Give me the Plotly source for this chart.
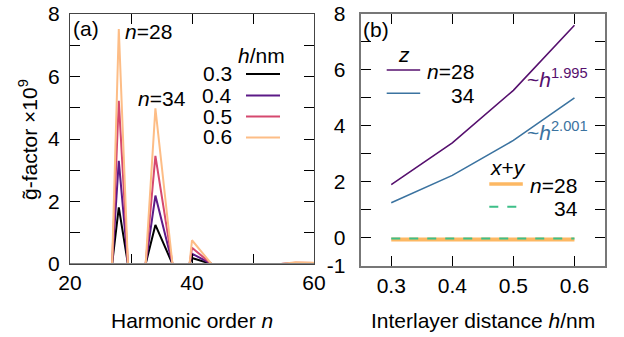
import plotly.graph_objects as go

W, H = 624, 337
def px(x): return x / W
def py(y): return 1 - y / H

FONT = "Liberation Sans, Arial, sans-serif"
FS = 21

# ---- panel (a) data ----
harmonic_n = [20, 26.9, 28, 29.5, 32.4, 34, 36.8, 39.6, 40, 43.2, 54.6, 57, 60]
g_h03 = [0, 0, 1.81, 0, 0, 1.25, 0, 0, 0.19, 0, 0, 0.015, 0.01]
g_h04 = [0, 0, 3.30, 0, 0, 2.19, 0, 0, 0.33, 0, 0, 0.025, 0.02]
g_h05 = [0, 0, 5.22, 0, 0, 3.46, 0, 0, 0.52, 0, 0, 0.04, 0.03]
g_h06 = [0, 0, 7.52, 0, 0, 4.98, 0, 0, 0.76, 0, 0, 0.06, 0.04]
h_labels = ["0.3", "0.4", "0.5", "0.6"]
h_colors = ["#000000", "#5c1a87", "#d5486f", "#fdbd86"]

# ---- panel (b) data ----
h_nm = [0.3, 0.4, 0.5, 0.6]
gz_n28 = [1.90, 3.39, 5.27, 7.60]
gz_n34 = [1.25, 2.23, 3.48, 5.00]
gxy_n28 = [-0.06, -0.06, -0.06, -0.06]
gxy_n34 = [-0.03, -0.03, -0.03, -0.03]

c_z28, c_z34, c_xy28, c_xy34 = "#56106e", "#3b73a0", "#fdb863", "#3dbf88"

fig = go.Figure()
for vals, lab, col in zip([g_h03, g_h04, g_h05, g_h06], h_labels, h_colors):
    fig.add_trace(go.Scatter(x=harmonic_n, y=vals, mode="lines", name=lab,
                             line=dict(color=col, width=2), xaxis="x", yaxis="y",
                             showlegend=False))

fig.add_trace(go.Scatter(x=h_nm, y=gz_n28, mode="lines", line=dict(color=c_z28, width=1.6),
                         xaxis="x2", yaxis="y2", showlegend=False))
fig.add_trace(go.Scatter(x=h_nm, y=gz_n34, mode="lines", line=dict(color=c_z34, width=1.6),
                         xaxis="x2", yaxis="y2", showlegend=False))
fig.add_trace(go.Scatter(x=h_nm, y=gxy_n28, mode="lines", line=dict(color=c_xy28, width=4),
                         xaxis="x2", yaxis="y2", showlegend=False))
fig.add_trace(go.Scatter(x=h_nm, y=gxy_n34, mode="lines", line=dict(color=c_xy34, width=2, dash="dash"),
                         xaxis="x2", yaxis="y2", showlegend=False))

axis_common = dict(showgrid=False, zeroline=False, showline=True, mirror="allticks",
                   ticks="inside", ticklen=10, tickcolor="#000", tickwidth=1, automargin=False,
                   ticklabeloverflow="allow",
                   tickfont=dict(family=FONT, size=FS, color="#000"))

fig.update_layout(
    width=W, height=H, margin=dict(l=0, r=0, t=0, b=0, pad=0),
    paper_bgcolor="white", plot_bgcolor="white",
    font=dict(family=FONT, size=FS, color="#000"),
    xaxis=dict(domain=[px(70), px(314)], range=[20, 60], tickvals=[20, 30, 40, 50, 60],
               ticktext=["20", "", "40", "", "60"], anchor="y", linecolor="#444", linewidth=1,
               **axis_common),
    yaxis=dict(domain=[py(264), py(14)], range=[0, 8], tickvals=list(range(0, 9)),
               ticktext=["0", "", "2", "", "4", "", "6", "", "8"], anchor="x",
               linecolor="#444", linewidth=1, ticklabelstandoff=5, **axis_common),
    xaxis2=dict(domain=[px(360.7), px(605)], range=[0.25, 0.65], tickvals=[0.3, 0.4, 0.5, 0.6],
                ticktext=["0.3", "0.4", "0.5", "0.6"], anchor="y2", linecolor="#777", linewidth=2,
                **axis_common),
    yaxis2=dict(domain=[py(265.7), py(14)], range=[-1, 8], tickvals=list(range(-1, 9)),
                ticktext=["-1", "0", "", "2", "", "4", "", "6", "", "8"], anchor="x2",
                linecolor="#777", linewidth=2, ticklabelstandoff=9, **axis_common),
)

# gray baseline in panel (a)
fig.add_shape(type="line", xref="x domain", yref="y", x0=0, x1=1, y0=0, y1=0,
              line=dict(color="#888", width=2.2), layer="above")

ann = []
def text(x, y, s, xa="left", ya="middle", color="#000", size=FS, angle=0):
    ann.append(dict(x=px(x), y=py(y), xref="paper", yref="paper", text=s, showarrow=False,
                    xanchor=xa, yanchor=ya, font=dict(family=FONT, size=size, color=color),
                    textangle=angle, borderpad=0))

# axis titles
text(192, 320, "Harmonic order <i>n</i>", xa="center")
text(483, 320, "Interlayer distance <i>h</i>/nm", xa="center")
text(28, 140, "g\u0303-factor \u00d710<sup>9</sup>", xa="center", angle=-90)

# panel (a) labels
text(72, 29, "(a)")
text(124, 32, "<i>n</i>=28")
text(137, 98, "<i>n</i>=34")
text(237, 56, "<i>h</i>/nm")
for lab, col, yy in zip(h_labels, h_colors, [73.5, 95, 116, 137]):
    text(233, yy, lab, xa="right")
    fig.add_shape(type="line", xref="paper", yref="paper", x0=px(246), x1=px(280),
                  y0=py(yy + 0.5), y1=py(yy + 0.5), line=dict(color=col, width=2))

# panel (b) labels
text(362, 30, "(b)")
text(397, 55, "<i>z</i>")
text(426, 71, "<i>n</i>=28")
text(476, 95, "34", xa="right")
text(489, 167, "<i>x</i>+<i>y</i>")
text(529, 185, "<i>n</i>=28")
text(579, 208, "34", xa="right")
for col, yy, dash, w in [(c_z28, 70, "solid", 1.6), (c_z34, 93.3, "solid", 1.6),
                         (c_xy28, 184, "solid", 3.5), (c_xy34, 206.7, "dash", 2)]:
    x0 = 386.7 if yy < 150 else 489.3
    fig.add_shape(type="line", xref="paper", yref="paper", x0=px(x0), x1=px(x0 + 33.5),
                  y0=py(yy), y1=py(yy), line=dict(color=col, width=w, dash=dash))

text(526, 78, "~<i>h</i><sup>1.995</sup>", color=c_z28)
text(526, 131, "~<i>h</i><sup>2.001</sup>", color=c_z34)

fig.update_layout(annotations=ann)
# remove the default 8px page margin so the 624x337 figure fills the window exactly
fig.write_html("out.html", config={"displayModeBar": False},
               post_script="document.body.style.margin='0';")
